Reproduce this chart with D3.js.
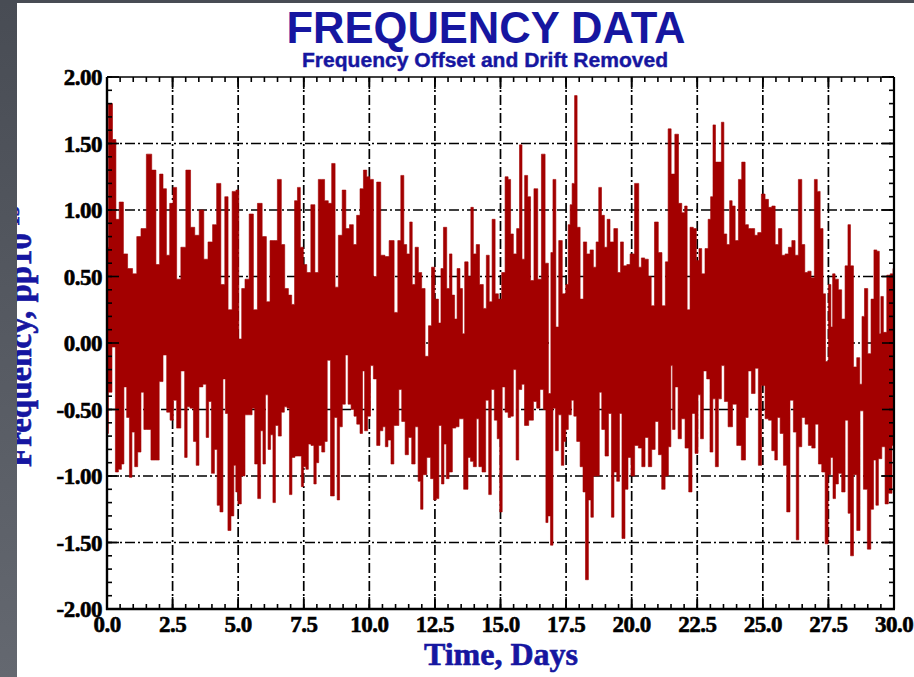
<!DOCTYPE html>
<html><head><meta charset="utf-8">
<script src="https://cdn.jsdelivr.net/npm/d3@7/dist/d3.min.js"></script>
<style>
html,body{margin:0;padding:0;background:#fff;}
svg{display:block;}
</style></head>
<body>
<svg id="chart" width="914" height="677"></svg>
<script>
// ---------------- data ----------------
const titleText = "FREQUENCY DATA";
const subtitleText = "Frequency Offset and Drift Removed";
const xTitle = "Time, Days";
const yTitle = "Frequency, pp10";
const yTitleExp = "-15";
const xMajorTicks = [0, 2.5, 5, 7.5, 10, 12.5, 15, 17.5, 20, 22.5, 25, 27.5, 30];
const yMajorTicks = [-2, -1.5, -1, -0.5, 0, 0.5, 1, 1.5, 2];
const xMinorStep = 0.5;
const yMinorStep = 0.1;

// upper envelope of the dense trace: [day, frequency]
const upperEnvelope = [
[0.00,0.72],[0.11,1.80],[0.31,1.53],[0.37,0.93],[0.56,1.06],[0.69,0.67],[0.88,0.56],[1.07,0.52],[1.20,0.80],[1.39,0.86],
[1.61,1.42],[1.80,1.30],[1.93,0.59],[2.08,1.27],[2.19,1.16],[2.34,0.66],[2.44,1.05],[2.59,1.17],[2.72,0.48],[2.91,0.72],
[3.10,1.30],[3.27,0.87],[3.42,0.81],[3.61,1.00],[3.77,0.63],[3.93,0.76],[4.12,0.89],[4.24,1.20],[4.44,0.44],[4.54,1.10],
[4.69,0.25],[4.85,1.14],[4.98,1.15],[5.07,0.03],[5.20,0.41],[5.32,0.48],[5.52,0.97],[5.64,0.25],[5.83,1.05],[6.00,0.80],
[6.15,0.31],[6.28,0.77],[6.40,0.77],[6.59,1.23],[6.70,0.74],[6.85,0.41],[6.98,0.36],[7.10,0.29],[7.20,1.07],[7.32,1.17],
[7.42,0.72],[7.55,0.59],[7.68,0.53],[7.86,1.04],[7.99,0.53],[8.12,1.23],[8.22,1.23],[8.37,1.07],[8.50,1.05],[8.63,1.35],
[8.76,0.42],[8.88,0.81],[9.05,1.15],[9.16,0.86],[9.33,0.89],[9.45,0.74],[9.58,0.96],[9.71,1.16],[9.84,1.30],[9.96,1.25],
[10.09,1.23],[10.22,0.50],[10.34,1.21],[10.53,0.66],[10.66,0.65],[10.85,0.77],[11.04,0.23],[11.13,0.77],[11.27,1.26],[11.36,0.74],
[11.49,0.67],[11.59,0.91],[11.68,0.44],[11.81,0.72],[11.93,0.53],[12.06,0.41],[12.19,-0.10],[12.32,0.13],[12.42,0.57],[12.57,0.33],
[12.70,0.15],[12.76,0.56],[12.89,0.87],[13.01,0.41],[13.10,0.67],[13.20,0.36],[13.30,0.18],[13.39,0.56],[13.52,0.41],[13.58,0.07],
[13.69,0.61],[13.84,0.50],[13.90,1.02],[14.03,0.67],[14.12,0.74],[14.28,0.44],[14.41,0.26],[14.51,0.66],[14.63,0.31],[14.73,0.93],
[14.86,0.37],[14.98,0.33],[15.11,0.53],[15.24,1.25],[15.34,1.23],[15.43,0.82],[15.55,0.67],[15.68,0.86],[15.77,1.49],[15.87,0.63],
[15.97,1.26],[16.10,1.10],[16.19,0.47],[16.36,1.16],[16.48,0.48],[16.64,1.42],[16.76,0.60],[16.89,-0.38],[16.95,0.68],[17.05,1.23],
[17.17,0.12],[17.27,0.77],[17.44,0.37],[17.53,0.44],[17.63,0.89],[17.68,1.04],[17.78,1.20],[17.87,1.86],[17.97,0.87],[18.10,0.33],
[18.22,0.76],[18.35,0.67],[18.48,0.70],[18.60,0.57],[18.69,0.76],[18.80,1.17],[18.90,0.96],[19.02,0.72],[19.11,0.93],[19.24,0.76],
[19.40,0.86],[19.53,0.53],[19.62,0.76],[19.75,0.58],[19.88,0.59],[20.00,0.67],[20.22,1.20],[20.32,0.57],[20.42,0.64],[20.57,0.63],
[20.70,0.50],[20.79,0.28],[20.95,0.91],[21.08,0.68],[21.23,0.28],[21.34,0.61],[21.44,1.61],[21.57,1.27],[21.72,1.57],[21.85,1.05],
[21.97,0.98],[22.07,1.03],[22.16,0.25],[22.29,0.87],[22.41,0.86],[22.52,0.62],[22.61,0.71],[22.73,0.52],[22.86,0.71],[22.97,0.93],
[23.05,1.10],[23.15,1.64],[23.24,1.36],[23.37,1.36],[23.47,1.66],[23.56,0.82],[23.69,0.74],[23.78,1.07],[23.88,1.03],[24.01,0.77],
[24.13,1.23],[24.26,1.36],[24.39,0.89],[24.51,0.86],[24.64,0.86],[24.74,0.81],[24.87,0.83],[25.02,1.12],[25.15,1.08],[25.28,1.02],
[25.41,1.03],[25.53,0.74],[25.66,0.86],[25.79,0.66],[25.91,0.67],[26.04,0.72],[26.17,0.77],[26.29,0.66],[26.42,1.23],[26.55,0.74],
[26.65,0.53],[26.78,0.54],[26.90,0.49],[27.03,1.23],[27.12,1.14],[27.25,0.86],[27.34,0.37],[27.44,-0.14],[27.56,0.44],[27.63,0.12],
[27.69,0.52],[27.82,0.48],[27.94,0.40],[28.07,0.18],[28.20,0.58],[28.29,0.89],[28.39,0.58],[28.52,-0.18],[28.64,-0.11],[28.75,-0.31],
[28.81,0.20],[28.94,0.41],[29.06,-0.08],[29.19,0.33],[29.28,0.70],[29.41,0.69],[29.47,0.07],[29.53,0.35],[29.66,0.08],[29.79,0.51],
[29.92,0.52],[30.00,0.56]
];

// lower envelope of the dense trace: [day, frequency]
const lowerEnvelope = [
[0.00,-0.68],[0.11,-0.37],[0.27,-0.03],[0.37,-0.97],[0.50,-0.95],[0.60,-0.91],[0.69,-0.33],[0.81,-0.56],[0.90,-1.01],[1.00,-0.67],
[1.11,-0.93],[1.23,-0.82],[1.36,-0.37],[1.45,-0.65],[1.58,-0.65],[1.77,-0.88],[1.92,-0.88],[2.06,-0.29],[2.21,-0.09],[2.34,-0.52],
[2.47,-0.58],[2.59,-0.43],[2.72,-0.64],[2.91,-0.21],[3.01,-0.86],[3.10,-0.48],[3.23,-0.49],[3.36,-0.74],[3.44,-0.92],[3.57,-0.33],
[3.74,-0.31],[3.82,-0.71],[3.93,-0.44],[4.03,-0.98],[4.16,-0.80],[4.24,-1.22],[4.37,-1.27],[4.47,-0.27],[4.56,-0.53],[4.66,-1.41],
[4.79,-1.30],[4.88,-0.92],[4.94,-1.12],[5.04,-1.21],[5.20,-1.00],[5.32,-0.54],[5.48,-0.54],[5.58,-0.49],[5.68,-0.91],[5.81,-1.17],
[5.90,-0.66],[5.99,-0.91],[6.09,-0.39],[6.19,-0.80],[6.28,-0.69],[6.37,-1.20],[6.47,-0.62],[6.59,-0.70],[6.70,-0.52],[6.82,-0.48],
[6.91,-0.49],[7.00,-1.14],[7.10,-0.86],[7.23,-0.85],[7.36,-0.85],[7.46,-1.08],[7.52,-0.93],[7.64,-0.95],[7.71,-0.76],[7.84,-0.77],
[7.93,-1.06],[8.02,-0.90],[8.12,-0.77],[8.25,-0.82],[8.35,-0.74],[8.44,-0.13],[8.60,-1.15],[8.73,-0.56],[8.82,-1.18],[8.91,-0.63],
[9.03,-0.46],[9.14,-0.09],[9.24,-0.46],[9.37,-0.50],[9.46,-0.55],[9.58,-0.61],[9.71,-0.68],[9.77,-0.21],[9.87,-0.66],[10.00,-0.55],
[10.09,-0.17],[10.22,-0.27],[10.34,-0.77],[10.47,-0.66],[10.56,-0.63],[10.66,-0.78],[10.76,-0.73],[10.89,-0.91],[10.98,-0.62],[11.08,-0.62],
[11.17,-0.35],[11.30,-0.59],[11.43,-0.84],[11.55,-0.71],[11.68,-0.91],[11.81,-0.63],[11.91,-1.04],[12.00,-1.25],[12.09,-0.99],[12.29,-0.86],
[12.38,-1.02],[12.51,-1.18],[12.60,-1.17],[12.70,-0.62],[12.80,-1.06],[12.89,-0.76],[12.98,-1.02],[13.10,-0.97],[13.23,-0.64],[13.36,-0.63],
[13.48,-0.57],[13.71,-1.10],[13.81,-0.86],[13.90,-0.89],[14.03,-0.93],[14.13,-0.57],[14.22,-0.93],[14.37,-0.97],[14.50,-0.43],[14.60,-1.14],
[14.70,-0.35],[14.83,-0.58],[14.92,-0.72],[15.02,-1.27],[15.11,-0.33],[15.24,-0.52],[15.34,-0.56],[15.43,-0.55],[15.55,-0.20],[15.64,-0.88],
[15.75,-0.35],[15.87,-0.31],[15.96,-0.62],[16.19,-0.58],[16.32,-0.44],[16.44,-0.49],[16.57,-0.35],[16.70,-0.50],[16.76,-1.35],[16.86,-1.30],
[16.95,-1.52],[17.05,-0.49],[17.14,-0.81],[17.27,-0.54],[17.37,-0.92],[17.46,-0.74],[17.52,-0.65],[17.65,-0.54],[17.75,-0.43],[17.84,-0.55],
[17.97,-0.74],[18.10,-0.93],[18.19,-1.12],[18.29,-1.78],[18.41,-1.18],[18.48,-1.31],[18.60,-1.00],[18.73,-1.00],[18.80,-0.37],[18.92,-0.65],
[19.05,-0.85],[19.18,-0.53],[19.28,-1.31],[19.37,-0.97],[19.49,-1.04],[19.58,-0.53],[19.68,-1.47],[19.81,-1.10],[19.91,-0.86],[20.04,-1.00],
[20.19,-0.77],[20.32,-0.79],[20.45,-0.93],[20.57,-0.71],[20.70,-0.93],[20.83,-0.80],[20.96,-0.59],[21.08,-0.84],[21.21,-1.10],[21.34,-1.00],
[21.46,-0.78],[21.53,-0.17],[21.59,-0.65],[21.72,-0.33],[21.82,-0.72],[21.97,-0.57],[22.10,-0.79],[22.25,-1.12],[22.35,-0.53],[22.48,-0.83],
[22.58,-0.39],[22.67,-0.72],[22.80,-0.21],[22.92,-0.27],[23.05,-0.82],[23.14,-0.42],[23.24,-0.93],[23.37,-0.42],[23.47,-0.17],[23.60,-0.44],
[23.75,-0.63],[23.94,-0.46],[24.07,-0.77],[24.29,-0.88],[24.39,-0.56],[24.49,-0.21],[24.64,-0.38],[24.77,-0.19],[24.89,-0.92],[25.02,-0.32],
[25.15,-0.57],[25.28,-0.58],[25.40,-0.81],[25.51,-0.88],[25.60,-0.56],[25.72,-0.68],[25.85,-0.92],[25.97,-1.27],[26.10,-0.43],[26.23,-0.67],
[26.32,-1.48],[26.42,-0.78],[26.55,-0.56],[26.67,-0.61],[26.80,-0.77],[26.93,-0.79],[27.06,-0.61],[27.18,-0.91],[27.31,-0.97],[27.44,-1.51],
[27.54,-0.99],[27.63,-0.86],[27.72,-1.17],[27.82,-1.06],[27.94,-0.98],[28.07,-1.12],[28.20,-0.58],[28.30,-1.28],[28.39,-1.60],[28.52,-0.99],
[28.64,-1.41],[28.77,-0.51],[28.90,-1.10],[29.07,-1.55],[29.16,-1.25],[29.28,-0.88],[29.34,-1.22],[29.47,-0.87],[29.60,-0.78],[29.72,-1.21],
[29.85,-1.13],[30.00,-0.77]
];

// ---------------- layout / style ----------------
const W = 914, H = 677;
const plot = {left: 107, right: 894, top: 77, bottom: 609};
const blue = "#1616a0";
const red = "#a30000";
const tickFont = "'Liberation Serif','Times New Roman',serif";
const sansFont = "'Liberation Sans',Arial,Helvetica,sans-serif";

const svg = d3.select("#chart");
const defs = svg.append("defs");
const grad = defs.append("linearGradient").attr("id","bgGrad").attr("x1",0).attr("y1",0).attr("x2",0).attr("y2",1);
grad.append("stop").attr("offset","0%").attr("stop-color","#484c54");
grad.append("stop").attr("offset","100%").attr("stop-color","#646870");
defs.append("clipPath").attr("id","plotClip").append("rect")
  .attr("x",plot.left).attr("y",plot.top).attr("width",plot.right-plot.left).attr("height",plot.bottom-plot.top);

svg.append("rect").attr("width",W).attr("height",H).attr("fill","#fff");

const x = d3.scaleLinear().domain([0,30]).range([plot.left, plot.right]);
const y = d3.scaleLinear().domain([-2,2]).range([plot.bottom, plot.top]);

// grid (under the data)
const dash = "10,3,2,3";
const grid = svg.append("g");
grid.selectAll("line.h").data(yMajorTicks.slice(1,-1)).join("line")
  .attr("x1",plot.left).attr("x2",plot.right).attr("y1",d=>y(d)).attr("y2",d=>y(d))
  .attr("stroke","#000").attr("stroke-width",1.7).attr("stroke-dasharray",dash);
grid.selectAll("line.v").data(xMajorTicks.slice(1,-1)).join("line")
  .attr("y1",plot.bottom).attr("y2",plot.top).attr("x1",d=>x(d)).attr("x2",d=>x(d))
  .attr("stroke","#000").attr("stroke-width",1.7).attr("stroke-dasharray",dash);

// data band: step function between the two envelopes
const byDay = d3.bisector(d => d[0]);
const nearest = (list, t) => list[byDay.center(list, t)][1];
const mids = list => list.slice(1).map((d,i) => (list[i][0] + d[0]) / 2);
const breaks = Array.from(new Set([0, ...mids(upperEnvelope), ...mids(lowerEnvelope), 30])).sort((a,b)=>a-b);
const band = breaks.slice(0,-1).map((a,i) => {
  const m = (a + breaks[i+1]) / 2;
  return {t: a, hi: nearest(upperEnvelope, m), lo: nearest(lowerEnvelope, m)};
});
band.push({t: 30, hi: band[band.length-1].hi, lo: band[band.length-1].lo});

const area = d3.area().curve(d3.curveStepAfter)
  .x(d => x(d.t)).y0(d => y(d.lo)).y1(d => y(d.hi));
svg.append("path").datum(band).attr("clip-path","url(#plotClip)")
  .attr("d", area).attr("fill", red).attr("stroke", red).attr("stroke-width", 0.6);

// ticks
const xMinor = d3.range(0, 30 + 1e-9, xMinorStep);
const yMinor = d3.range(-2, 2 + 1e-9, yMinorStep);
const tk = svg.append("g").attr("stroke","#000").attr("stroke-width",1.6);
function ticksX(vals, y0, len){ tk.append("g").selectAll("line").data(vals).join("line")
  .attr("x1",d=>x(d)).attr("x2",d=>x(d)).attr("y1",y0).attr("y2",y0+len); }
function ticksY(vals, x0, len){ tk.append("g").selectAll("line").data(vals).join("line")
  .attr("y1",d=>y(d)).attr("y2",d=>y(d)).attr("x1",x0).attr("x2",x0+len); }
ticksX(xMinor, plot.bottom, -5); ticksX(xMinor, plot.top, 5);
ticksX(xMajorTicks, plot.bottom, -12); ticksX(xMajorTicks, plot.top, 12);
ticksY(yMinor, plot.left, 5); ticksY(yMinor, plot.right, -5);
ticksY(yMajorTicks, plot.left, 12); ticksY(yMajorTicks, plot.right, -12);

// frame
const fr = svg.append("g").attr("stroke","#000").attr("fill","none");
fr.append("line").attr("x1",plot.left).attr("x2",plot.right).attr("y1",plot.top).attr("y2",plot.top).attr("stroke-width",1.5);
fr.append("line").attr("x1",plot.right).attr("x2",plot.right).attr("y1",plot.top).attr("y2",plot.bottom).attr("stroke-width",2.2);
fr.append("line").attr("x1",plot.left).attr("x2",plot.left).attr("y1",plot.top).attr("y2",plot.bottom+1).attr("stroke-width",2.4);
fr.append("line").attr("x1",plot.left-1).attr("x2",plot.right+1).attr("y1",plot.bottom).attr("y2",plot.bottom).attr("stroke-width",2.4);

// tick labels
const lab = svg.append("g").attr("font-family",tickFont).attr("font-weight","bold")
  .attr("font-size",23).attr("fill","#000").attr("stroke","#000").attr("stroke-width",0.6);
lab.selectAll("text.y").data(yMajorTicks).join("text")
  .attr("x", plot.left - 5).attr("y", d => y(d)).attr("dy","0.35em")
  .attr("text-anchor","end").attr("letter-spacing",-0.5).text(d => d.toFixed(2));
lab.selectAll("text.x").data(xMajorTicks).join("text")
  .attr("x", d => x(d)).attr("y", plot.bottom + 23)
  .attr("text-anchor","middle").attr("letter-spacing",-0.5).text(d => d.toFixed(1));

// titles
svg.append("text").attr("x",486).attr("y",43).attr("text-anchor","middle")
  .attr("font-family",sansFont).attr("font-weight","bold").attr("font-size",44)
  .attr("textLength",399).attr("lengthAdjust","spacingAndGlyphs")
  .attr("fill",blue).text(titleText);
svg.append("text").attr("x",485).attr("y",67).attr("text-anchor","middle")
  .attr("font-family",sansFont).attr("font-weight","bold").attr("font-size",20)
  .attr("textLength",366).attr("lengthAdjust","spacingAndGlyphs")
  .attr("fill",blue).attr("stroke",blue).attr("stroke-width",0.4).text(subtitleText);
svg.append("text").attr("x",501).attr("y",665).attr("text-anchor","middle")
  .attr("font-family",tickFont).attr("font-weight","bold").attr("font-size",32)
  .attr("fill",blue).attr("stroke",blue).attr("stroke-width",0.6).text(xTitle);
const yt = svg.append("text").attr("transform","translate(31,467) rotate(-90)")
  .attr("font-family",tickFont).attr("font-weight","bold").attr("font-size",33)
  .attr("fill",blue).attr("stroke",blue).attr("stroke-width",0.6);
yt.append("tspan").text(yTitle);
yt.append("tspan").attr("dy",-12).attr("font-size",20).text(yTitleExp);

// gray page border (left strip and top strip)
svg.append("rect").attr("x",0).attr("y",0).attr("width",17).attr("height",H).attr("fill","url(#bgGrad)");
svg.append("rect").attr("x",0).attr("y",0).attr("width",W).attr("height",3).attr("fill","#484c54");
</script>
</body></html>
